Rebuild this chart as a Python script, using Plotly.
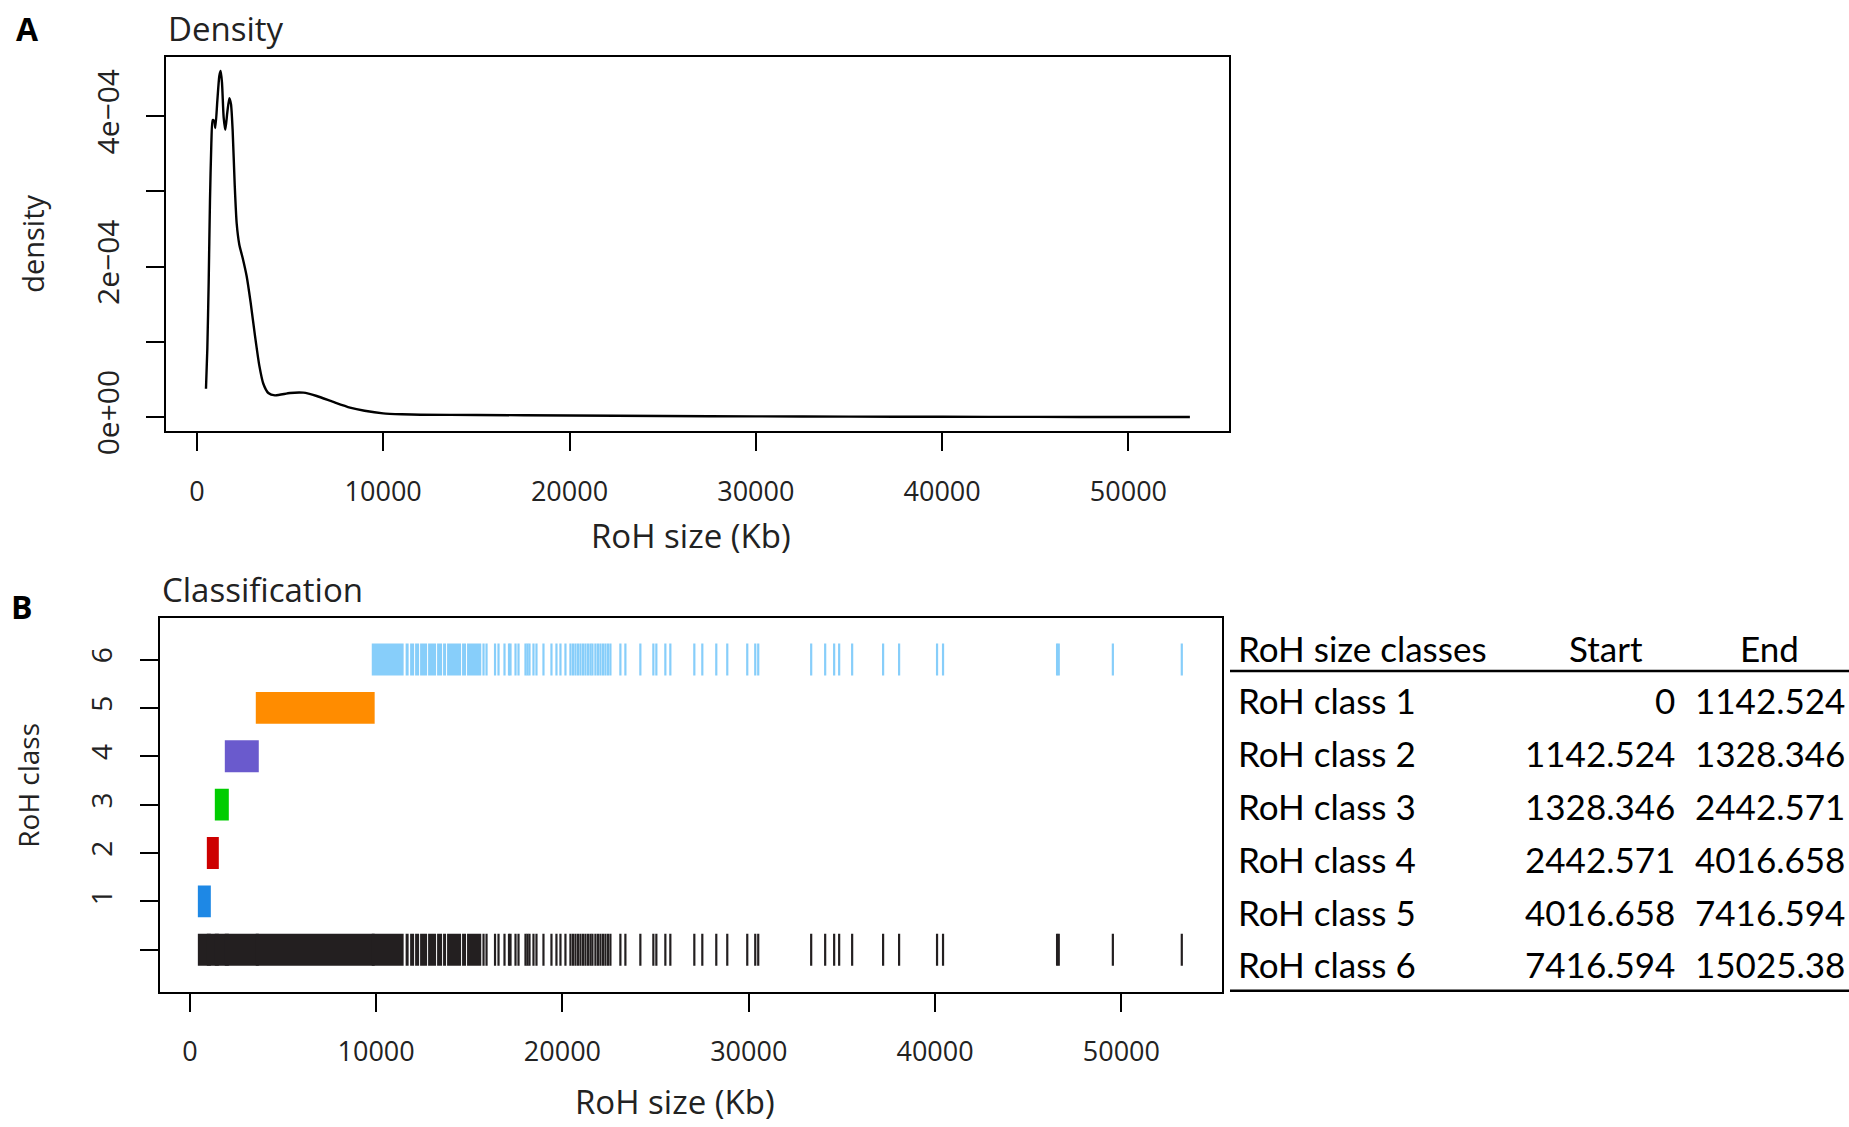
import plotly.graph_objects as go

W, H = 1849, 1127

# ---------------- Panel A: density of RoH size (Kb) ----------------
dens_x = [488, 560, 632, 703, 775, 847, 918, 989, 1097, 1204, 1276, 1347, 1437, 1526,
          1633, 1741, 1830, 1920, 2027, 2135, 2278, 2457, 2672, 2886, 3119, 3351, 3566,
          3834, 4192, 4997, 5713, 6429, 7323, 8218, 9000, 10000, 11000, 12000, 15000,
          20000, 25000, 30000, 35000, 40000, 45000, 50000, 53300]
dens_y = [0.378, 0.906, 1.786, 2.886, 3.634, 3.951, 3.942, 3.845, 4.206, 4.536, 4.602,
          4.448, 3.986, 3.819, 4.052, 4.242, 4.162, 3.810, 3.106, 2.578, 2.292, 2.116,
          1.873, 1.522, 1.081, 0.685, 0.444, 0.321, 0.289, 0.321, 0.325, 0.281, 0.202,
          0.127, 0.085, 0.050, 0.038, 0.032, 0.028, 0.022, 0.015, 0.010, 0.007, 0.005,
          0.003, 0.002, 0.001]
dens_y = [v * 1e-4 for v in dens_y]

x_ticks = [0, 10000, 20000, 30000, 40000, 50000]
x_ticktext = ["0", "10000", "20000", "30000", "40000", "50000"]
dens_ticks = [0, 1e-4, 2e-4, 3e-4, 4e-4]
dens_ticktext = ["0e+00", "", "2e\u221204", "", "4e\u221204"]

# ---------------- Panel B: classification rug ----------------
class_colors = ["#1E88E5", "#CD0000", "#00CD00", "#6A5ACD", "#FF8C00", "#87CEFA"]
all_color = "#231F20"

# dense runs of RoH (start, end in Kb) per class
class_runs = {
    1: [(429, 1126)],
    2: [(912, 1555)],
    3: [(1340, 2091)],
    4: [(1877, 3700)],
    5: [(3539, 9920)],
    6: [(9764, 11475), (11582, 11743), (11823, 12038), (12091, 12306), (12359, 12735),
        (12788, 13217), (13271, 13539), (13592, 13753), (13807, 14558), (14611, 14826),
        (14879, 15641)],
}
# individual RoH (Kb) of class 6 beyond the dense run
class6_ticks = [15764, 15925, 16381, 16568, 16890, 17131, 17212, 17480, 17641, 18016,
                18123, 18231, 18445, 18606, 18981, 19410, 19678, 19893, 20161, 20429,
                20563, 20697, 20831, 20965, 21099, 21233, 21367, 21501, 21609, 21769,
                21903, 22038, 22172, 22306, 22440, 22574, 23110, 23378, 24182, 24879,
                25040, 25523, 25791, 27078, 27507, 28257, 28847, 29920, 30349, 30509,
                33351, 34102, 34584, 34853, 35550, 37212, 38070, 40107, 40429, 46550,
                46640, 49544, 53244]
class_ticks = [0, 1, 2, 3, 4, 5, 6]
class_ticktext = ["", "1", "2", "3", "4", "5", "6"]

# table
table_header = ["RoH size classes", "Start", "End"]
table_rows = [f"RoH class {i}" for i in range(1, 7)]
table_start = ["0", "1142.524", "1328.346", "2442.571", "4016.658", "7416.594"]
table_end = ["1142.524", "1328.346", "2442.571", "4016.658", "7416.594", "15025.38"]

FONT = "Open Sans"
TFONT = "Lato"
HALF = 0.33


def Y(y):
    # page y (px from top) correction
    return (y + 1.6) / 0.986


fig = go.Figure()

fig.add_trace(go.Scatter(x=dens_x, y=dens_y, mode="lines",
                         line=dict(color="black", width=2.4, shape="spline", smoothing=0.6),
                         xaxis="x", yaxis="y", showlegend=False, hoverinfo="skip"))


def add_runs(runs, row, color):
    fig.add_trace(go.Bar(y=[row] * len(runs), x=[b - a for a, b in runs], base=[a for a, b in runs],
                         orientation="h", width=2 * HALF, marker=dict(color=color, line=dict(width=0)),
                         xaxis="x2", yaxis="y2", showlegend=False, hoverinfo="skip"))


def add_ticks(vals, row, color):
    xs, ys = [], []
    for v in vals:
        xs += [v, v, None]
        ys += [row - HALF, row + HALF, None]
    fig.add_trace(go.Scatter(x=xs, y=ys, mode="lines", line=dict(color=color, width=2.2),
                             xaxis="x2", yaxis="y2", showlegend=False, hoverinfo="skip"))


for k in range(1, 7):
    add_runs(class_runs[k], k, class_colors[k - 1])
add_ticks(class6_ticks, 6, class_colors[5])

all_runs = [r for k in range(1, 7) for r in class_runs[k]]
add_runs(all_runs, 0, all_color)
add_ticks(class6_ticks, 0, all_color)

fig.update_layout(barmode="overlay")

ax_common = dict(showgrid=False, zeroline=False, showline=True, mirror=True, linecolor="black", linewidth=2,
                 ticks="outside", ticklen=18, tickwidth=2, tickcolor="black")

xA = [166.3 / W, 1228.9 / W]
yA = [1 - Y(432.8) / H, 1 - Y(55.4) / H]
xB = [160.4 / W, 1221.6 / W]
yB = [1 - Y(997.6) / H, 1 - Y(621.4) / H]

fig.update_layout(
    width=W, height=H, margin=dict(l=0, r=0, t=0, b=0), paper_bgcolor="white", plot_bgcolor="white",
    xaxis=dict(domain=xA, range=[-1642, 55394], tickvals=x_ticks, ticktext=x_ticktext,
               ticklabelstandoff=17, anchor="y", tickfont=dict(family=FONT, size=27, color="#222"),
               **ax_common),
    yaxis=dict(domain=yA, range=[-0.187e-4, 4.794e-4], tickvals=dens_ticks,
               ticktext=dens_ticktext, tickangle=-90, ticklabelstandoff=15,
               tickfont=dict(family=FONT, size=30, color="#222"), anchor="x", **ax_common),
    xaxis2=dict(domain=xB, range=[-1581, 55381], tickvals=x_ticks, ticktext=x_ticktext,
                ticklabelstandoff=17, anchor="y2", tickfont=dict(family=FONT, size=27, color="#222"),
                **ax_common),
    yaxis2=dict(domain=yB, range=[-0.87, 6.85], tickvals=class_ticks,
                ticktext=class_ticktext, tickangle=-90, ticklabelstandoff=17,
                tickfont=dict(family=FONT, size=28, color="#222"), anchor="x2", **ax_common),
)

ann = []


def txt(x, y, s, size, family=FONT, xanchor="center", yanchor="middle", angle=0, bold=False, color="#222"):
    ann.append(dict(x=x / W, y=1 - Y(y) / H, xref="paper", yref="paper", text=f"<b>{s}</b>" if bold else s,
                    showarrow=False, xanchor=xanchor, yanchor=yanchor, textangle=angle,
                    font=dict(family=family, size=size, color=color)))


txt(27, 27, "A", 32, bold=True, color="black")
txt(22, 609, "B", 32, bold=True, color="black")
txt(166, 27, "Density", 33, xanchor="left")
txt(160, 592, "Classification", 33, xanchor="left")
txt(691, 538, "RoH size (Kb)", 33)
txt(675, 1108, "RoH size (Kb)", 33)
txt(33, 244, "density", 29, angle=-90)
txt(28, 790, "RoH class", 28, angle=-90)

# table text
hy = 651
txt(1236, hy, table_header[0], 35, family=TFONT, xanchor="left", color="black")
txt(1606, hy, table_header[1], 35, family=TFONT, color="black")
txt(1769, hy, table_header[2], 35, family=TFONT, color="black")
row_y = [704, 757, 810, 864, 917, 970]
for i in range(6):
    txt(1236, row_y[i], table_rows[i], 35, family=TFONT, xanchor="left", color="black")
    txt(1677, row_y[i], table_start[i], 35, family=TFONT, xanchor="right", color="black")
    txt(1847, row_y[i], table_end[i], 35, family=TFONT, xanchor="right", color="black")

fig.update_layout(annotations=ann)
for yy in (674.5, 996.5):
    fig.add_shape(type="line", xref="paper", yref="paper", x0=1230 / W, x1=1, y0=1 - Y(yy) / H, y1=1 - Y(yy) / H,
                  line=dict(color="black", width=2.5))

fig.write_html("out.html")
